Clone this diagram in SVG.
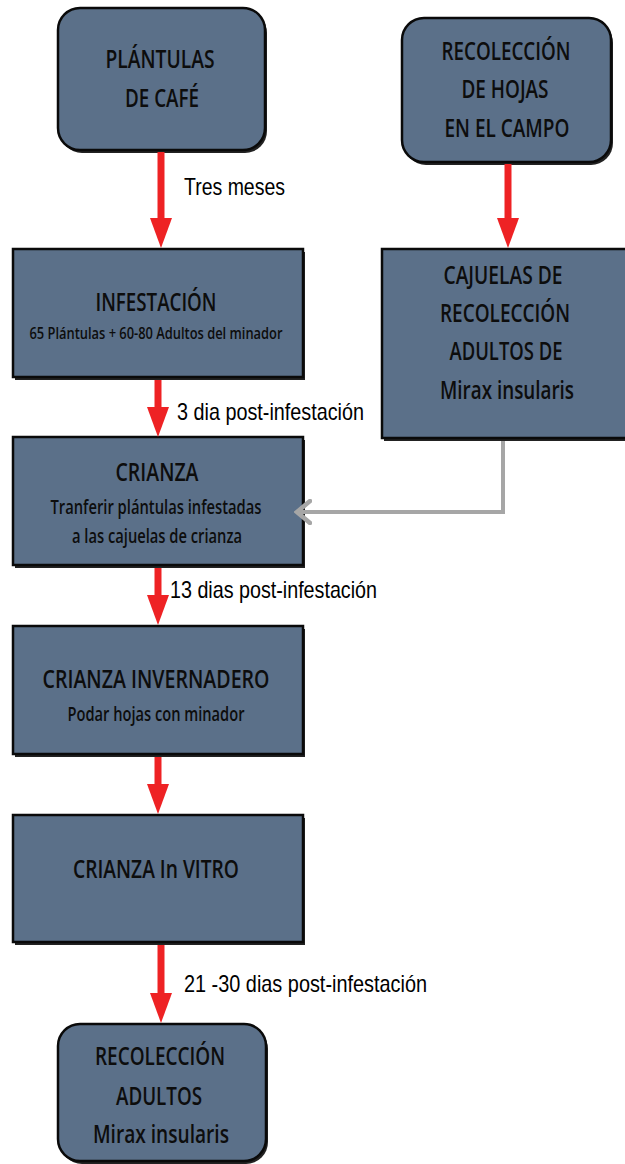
<svg xmlns="http://www.w3.org/2000/svg" width="625" height="1164" viewBox="0 0 625 1164">
<style>
.box{fill:#5b7089;stroke:#0a0a0a;stroke-width:2.5}
.sh{fill:#222}
.t{font-family:"Open Sans","Liberation Sans",sans-serif;font-weight:600;fill:#0d0d0d;text-anchor:middle}
.big{font-size:25px}
.sm{font-size:19px}
.xs{font-size:16px}
.lbl{font-family:"Liberation Sans",Arial,sans-serif;font-size:24px;fill:#000}
.red{stroke:#ee2224;stroke-width:7;fill:none}
.gray{stroke:#a6a6a6;stroke-width:4;fill:none}
</style>
<defs>
<marker id="rh" viewBox="0 0 30 22" markerWidth="30" markerHeight="22" refX="0" refY="11" orient="auto" markerUnits="userSpaceOnUse">
<path d="M0,0 L30,11 L0,22 z" fill="#ee2224"/>
</marker>
<marker id="gh" viewBox="0 0 18 26" markerWidth="18" markerHeight="26" refX="16" refY="13" orient="auto" markerUnits="userSpaceOnUse">
<path d="M2,2 L15,13 L2,24" fill="none" stroke="#a6a6a6" stroke-width="4.5" stroke-linecap="round"/>
</marker>
</defs>
<rect width="625" height="1164" fill="#fff"/>

<g id="n1">
<rect class="sh" x="60" y="11" width="207" height="142" rx="22"/>
<rect class="box" x="58" y="8" width="207" height="142" rx="22"/>
<text class="t big" x="160" y="68" textLength="109" lengthAdjust="spacingAndGlyphs">PLÁNTULAS</text>
<text class="t big" x="162" y="107" textLength="74" lengthAdjust="spacingAndGlyphs">DE CAFÉ</text>
</g>

<g id="n2">
<rect class="sh" x="404" y="21" width="209" height="144" rx="22"/>
<rect class="box" x="402" y="18" width="209" height="144" rx="22"/>
<text class="t big" x="506" y="60" textLength="129" lengthAdjust="spacingAndGlyphs">RECOLECCIÓN</text>
<text class="t big" x="505" y="98" textLength="87" lengthAdjust="spacingAndGlyphs">DE HOJAS</text>
<text class="t big" x="507" y="137" textLength="125" lengthAdjust="spacingAndGlyphs">EN EL CAMPO</text>
</g>

<g id="n3">
<rect class="sh" x="15" y="252" width="290" height="128"/>
<rect class="box" x="13" y="249" width="290" height="128"/>
<text class="t big" x="156" y="311" textLength="121" lengthAdjust="spacingAndGlyphs">INFESTACIÓN</text>
<text class="t xs" x="156" y="339" textLength="253" lengthAdjust="spacingAndGlyphs">65 Plántulas + 60-80 Adultos del minador</text>
</g>

<g id="n4">
<rect class="sh" x="384" y="252" width="250" height="189"/>
<rect class="box" x="382" y="249" width="250" height="189"/>
<text class="t big" x="503" y="284" textLength="119" lengthAdjust="spacingAndGlyphs">CAJUELAS DE</text>
<text class="t big" x="505" y="322" textLength="130" lengthAdjust="spacingAndGlyphs">RECOLECCIÓN</text>
<text class="t big" x="506" y="360" textLength="113" lengthAdjust="spacingAndGlyphs">ADULTOS DE</text>
<text class="t big" x="507" y="399" textLength="134" lengthAdjust="spacingAndGlyphs">Mirax insularis</text>
</g>

<g id="n5">
<rect class="sh" x="15" y="440" width="290" height="128"/>
<rect class="box" x="13" y="437" width="290" height="128"/>
<text class="t big" x="157" y="481" textLength="83" lengthAdjust="spacingAndGlyphs">CRIANZA</text>
<text class="t sm" x="156" y="514" textLength="211" lengthAdjust="spacingAndGlyphs">Tranferir plántulas infestadas</text>
<text class="t sm" x="157" y="543" textLength="170" lengthAdjust="spacingAndGlyphs">a las cajuelas de crianza</text>
</g>

<g id="n6">
<rect class="sh" x="15" y="629" width="290" height="128"/>
<rect class="box" x="13" y="626" width="290" height="128"/>
<text class="t big" x="156" y="688" textLength="227" lengthAdjust="spacingAndGlyphs">CRIANZA INVERNADERO</text>
<text class="t sm" x="156" y="721" textLength="177" lengthAdjust="spacingAndGlyphs">Podar hojas con minador</text>
</g>

<g id="n7">
<rect class="sh" x="15" y="818" width="290" height="127"/>
<rect class="box" x="13" y="815" width="290" height="127"/>
<text class="t big" x="156" y="878" textLength="166" lengthAdjust="spacingAndGlyphs">CRIANZA In VITRO</text>
</g>

<g id="n8">
<rect class="sh" x="60" y="1027" width="208" height="137" rx="22"/>
<rect class="box" x="58" y="1024" width="208" height="137" rx="22"/>
<text class="t big" x="160" y="1065" textLength="130" lengthAdjust="spacingAndGlyphs">RECOLECCIÓN</text>
<text class="t big" x="159" y="1105" textLength="86" lengthAdjust="spacingAndGlyphs">ADULTOS</text>
<text class="t big" x="161" y="1143" textLength="136" lengthAdjust="spacingAndGlyphs">Mirax insularis</text>
</g>

<g id="connectors">
<line class="red" x1="161" y1="152" x2="161" y2="218" marker-end="url(#rh)"/>
<line class="red" x1="508" y1="164" x2="508" y2="218" marker-end="url(#rh)"/>
<line class="red" x1="158" y1="380" x2="158" y2="407" marker-end="url(#rh)"/>
<line class="red" x1="158" y1="568" x2="158" y2="595" marker-end="url(#rh)"/>
<line class="red" x1="158" y1="757" x2="158" y2="784" marker-end="url(#rh)"/>
<line class="red" x1="161" y1="945" x2="161" y2="993" marker-end="url(#rh)"/>
<polyline class="gray" points="503,441 503,512 296,512" marker-end="url(#gh)"/>
<text class="lbl" x="184" y="195" textLength="101" lengthAdjust="spacingAndGlyphs">Tres meses</text>
<text class="lbl" x="177" y="420" textLength="187" lengthAdjust="spacingAndGlyphs">3 dia post-infestación</text>
<text class="lbl" x="170" y="598" textLength="207" lengthAdjust="spacingAndGlyphs">13 dias post-infestación</text>
<text class="lbl" x="184" y="992" textLength="243" lengthAdjust="spacingAndGlyphs">21 -30 dias post-infestación</text>
</g>
</svg>
